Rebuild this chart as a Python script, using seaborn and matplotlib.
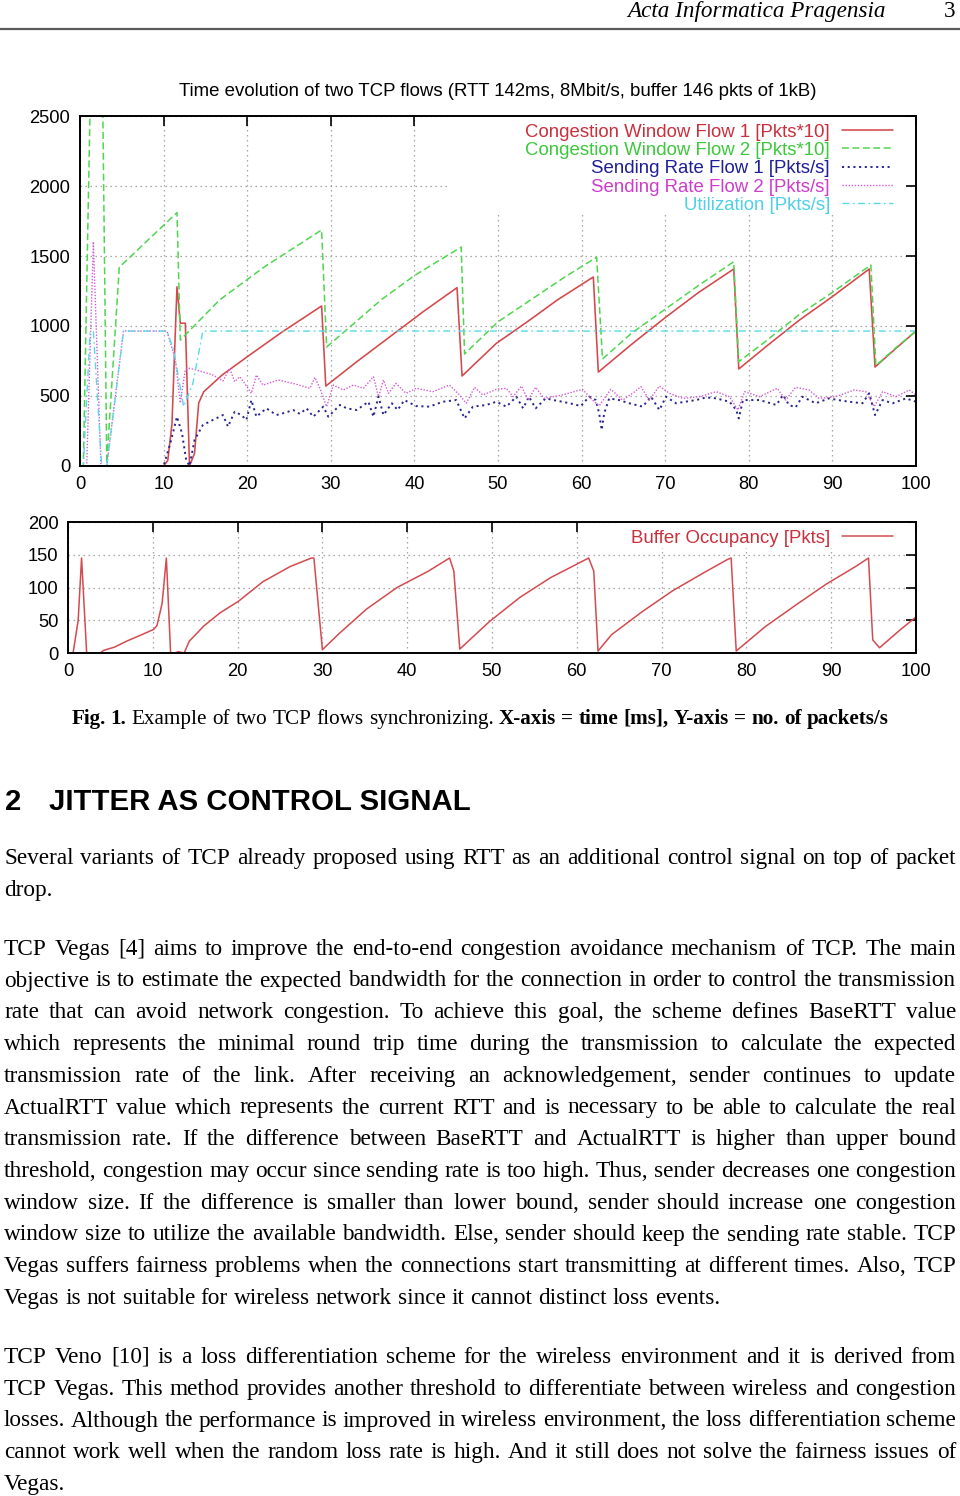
import matplotlib
matplotlib.use("Agg")
import matplotlib.pyplot as plt
import seaborn as sns
from matplotlib.transforms import IdentityTransform
from matplotlib.font_manager import FontProperties
from matplotlib.patches import Rectangle

# ------------------------------------------------------------------ data
time_ticks = list(range(0, 101, 10))
rate_ticks = [0, 500, 1000, 1500, 2000, 2500]
buffer_ticks = [0, 50, 100, 150, 200]

cwnd1_t = [0, 10.0, 10.5, 11.0, 11.6, 12.0, 12.6, 13.1, 13.7, 14.2,
           14.8, 17.0, 20.0, 24.0, 28.9, 29.4, 33.0, 37.0, 41.0, 45.1,
           45.7, 49.8, 53.5, 57.1, 61.4, 62.0, 66.0, 70.0, 74.0, 78.2,
           78.8, 82.0, 86.0, 90.0, 94.4, 95.1, 97.5, 100.0]
cwnd1_v = [0, 0, 40, 300, 1280, 1020, 1020, 0, 90, 450,
           530, 650, 780, 950, 1143, 571, 740, 920, 1100, 1274,
           643, 876, 1030, 1186, 1350, 671, 870, 1060, 1240, 1407,
           693, 850, 1040, 1210, 1407, 707, 835, 964]

cwnd2_t = [0, 0.4, 1.25, 2.7, 3.2, 4.7, 11.6, 12.0, 16.7, 22.0,
           28.9, 29.5, 33.0, 36.0, 40.0, 45.6, 46.0, 50.0, 54.0, 58.0,
           61.8, 62.5, 66.0, 70.0, 74.0, 78.2, 78.8, 82.0, 86.0, 90.0,
           94.6, 95.2, 97.5, 100.0]
cwnd2_v = [0, 0, 2700, 2700, 20, 1420, 1810, 900, 1186, 1420,
           1686, 850, 1030, 1186, 1360, 1564, 800, 1030, 1190, 1350,
           1491, 764, 950, 1120, 1290, 1459, 745, 890, 1080, 1240,
           1436, 717, 840, 964]

sr1_t = [0, 10.0, 10.8, 11.6, 12.2, 12.7, 13.1, 13.7, 14.7, 15.9,
         17.1, 17.7, 18.5, 19.3, 19.9, 20.5, 21.1, 22.3, 23.5, 24.5,
         25.5, 26.3, 27.1, 27.9, 29.1, 29.7, 31.1, 31.9, 33.1, 34.5,
         35.1, 35.7, 36.3, 37.3, 38.0, 38.8, 40.2, 41.8, 43.4, 45.0,
         46.0, 47.0, 48.6, 49.8, 51.0, 52.2, 53.0, 53.7, 54.5, 55.7,
         56.7, 57.7, 58.8, 59.9, 60.9, 61.7, 62.1, 62.4, 62.7, 63.3,
         64.5, 65.7, 67.3, 68.3, 69.3, 70.1, 71.3, 72.5, 73.7, 74.9,
         76.1, 77.7, 78.5, 78.8, 79.3, 81.3, 83.3, 84.1, 84.8, 85.6,
         86.4, 88.0, 89.6, 90.8, 92.0, 93.6, 94.4, 95.1, 96.0, 97.2,
         98.8, 100.0]
sr1_v = [0, 0, 162, 352, 233, 43, 0, 186, 293, 329,
         364, 281, 388, 364, 329, 471, 352, 412, 364, 380,
         400, 372, 412, 352, 424, 352, 436, 412, 400, 459,
         352, 495, 364, 448, 400, 471, 428, 424, 459, 471,
         340, 424, 436, 459, 424, 495, 412, 495, 412, 483,
         470, 459, 445, 428, 495, 471, 376, 257, 376, 483,
         471, 448, 424, 495, 400, 495, 448, 460, 471, 490,
         483, 459, 400, 340, 471, 471, 436, 507, 436, 419,
         495, 448, 483, 470, 459, 448, 519, 364, 471, 448,
         483, 459]

sr2_t = [0, 0.8, 1.6, 2.5, 3.2, 5.2, 10.4, 11.4, 12.0, 12.6,
         13.1, 13.9, 15.9, 17.1, 17.9, 18.5, 19.1, 19.7, 20.5, 21.1,
         21.9, 23.7, 25.5, 27.5, 28.1, 28.7, 29.5, 30.3, 31.5, 32.7,
         33.9, 35.1, 35.7, 36.3, 36.9, 37.8, 39.0, 40.2, 42.2, 44.2,
         45.4, 46.2, 47.2, 48.2, 49.8, 51.0, 51.8, 52.8, 53.6, 54.5,
         55.5, 57.7, 60.1, 61.3, 62.1, 63.5, 64.9, 66.1, 67.1, 68.1,
         69.3, 70.5, 72.1, 74.1, 76.1, 77.7, 78.7, 79.5, 81.3, 83.4,
         84.4, 85.6, 87.2, 88.4, 90.4, 92.6, 94.0, 95.0, 96.0, 97.6,
         99.2, 100.0]
sr2_v = [0, 0, 1602, 0, 0, 964, 964, 760, 450, 690,
         698, 686, 650, 607, 698, 602, 638, 590, 519, 650,
         578, 614, 590, 555, 633, 555, 424, 578, 543, 578,
         555, 638, 495, 614, 519, 590, 519, 555, 531, 578,
         507, 448, 562, 507, 548, 555, 495, 571, 471, 562,
         483, 507, 548, 471, 430, 548, 471, 519, 567, 471,
         571, 519, 483, 495, 531, 495, 400, 531, 495, 555,
         471, 562, 543, 483, 495, 543, 531, 424, 531, 495,
         543, 507]

util_t = [0, 0.4, 1.2, 1.6, 2.6, 3.2, 5.2, 10.4, 11.2, 12.4, 13.5, 14.7, 100.0]
util_v = [0, 0, 950, 960, 0, 0, 964, 964, 830, 424, 590, 964, 964]

buf_t = [0, 0.6, 1.2, 1.6, 2.2, 3.8, 4.2, 5.5, 6.9, 8.7,
         10.1, 10.5, 11.1, 11.6, 12.1, 12.6, 13.0, 13.7, 14.3, 16.0,
         17.9, 20.1, 23.0, 26.2, 28.7, 29.0, 30.0, 32.0, 35.2, 38.8,
         42.5, 45.0, 45.5, 46.2, 49.7, 53.3, 56.9, 61.4, 62.0, 62.5,
         64.1, 67.7, 71.3, 74.9, 77.8, 78.2, 78.8, 82.2, 85.8, 89.4,
         93.0, 94.4, 94.9, 95.7, 98.1, 100.0]
buf_v = [0, 0, 50, 145, 0, 0, 4, 9, 18, 28,
         36, 42, 76, 145, 0, 0, 2, 0, 18, 41,
         61, 79, 109, 132, 145, 145, 5, 30, 67, 100,
         125, 145, 125, 6, 48, 85, 115, 145, 125, 3,
         28, 63, 95, 122, 143, 145, 3, 40, 73, 105,
         133, 145, 20, 8, 35, 55]

series_labels = ["Congestion Window Flow 1 [Pkts*10]",
                 "Congestion Window Flow 2 [Pkts*10]",
                 "Sending Rate Flow 1 [Pkts/s]",
                 "Sending Rate Flow 2 [Pkts/s]",
                 "Utilization [Pkts/s]"]
buffer_label = "Buffer Occupancy [Pkts]"
chart_title = "Time evolution of two TCP flows (RTT 142ms, 8Mbit/s, buffer 146 pkts of 1kB)"

header_journal = "Acta Informatica Pragensia"
header_page = "3"
caption_parts = [("Fig. 1.", "bold"),
                 ("Example of two TCP flows synchronizing.", "normal"),
                 ("X-axis = time [ms], Y-axis = no. of packets/s", "bold")]
heading_num = "2"
heading_text = "JITTER AS CONTROL SIGNAL"
paragraphs = [
    ["Several variants of TCP already proposed using RTT as an additional control signal on top of packet",
     "drop."],
    ["TCP Vegas [4] aims to improve the end-to-end congestion avoidance mechanism of TCP. The main",
     "objective is to estimate the expected bandwidth for the connection in order to control the transmission",
     "rate that can avoid network congestion. To achieve this goal, the scheme defines BaseRTT value",
     "which represents the minimal round trip time during the transmission to calculate the expected",
     "transmission rate of the link. After receiving an acknowledgement, sender continues to update",
     "ActualRTT value which represents the current RTT and is necessary to be able to calculate the real",
     "transmission rate. If the difference between BaseRTT and ActualRTT is higher than upper bound",
     "threshold, congestion may occur since sending rate is too high. Thus, sender decreases one congestion",
     "window size. If the difference is smaller than lower bound, sender should increase one congestion",
     "window size to utilize the available bandwidth. Else, sender should keep the sending rate stable. TCP",
     "Vegas suffers fairness problems when the connections start transmitting at different times. Also, TCP",
     "Vegas is not suitable for wireless network since it cannot distinct loss events."],
    ["TCP Veno [10] is a loss differentiation scheme for the wireless environment and it is derived from",
     "TCP Vegas. This method provides another threshold to differentiate between wireless and congestion",
     "losses. Although the performance is improved in wireless environment, the loss differentiation scheme",
     "cannot work well when the random loss rate is high. And it still does not solve the fairness issues of",
     "Vegas."],
]

# ------------------------------------------------------------------ style
sns.set_theme(style="white")
plt.rcParams["font.family"] = ["Liberation Sans", "DejaVu Sans"]
plt.rcParams["lines.scale_dashes"] = False

W, H = 960, 1496
fig = plt.figure(figsize=(W / 100, H / 100), dpi=100)
fig.patch.set_facecolor("white")
renderer = fig.canvas.get_renderer()
ID = IdentityTransform()


def box(l, t, r, b):
    return [l / W, 1 - b / H, (r - l) / W, (b - t) / H]


line_colors = ["#d4474c", "#4fd64f", "#262690", "#d65ad6", "#58d8e8"]
text_colors = ["#c8303c", "#3cc83c", "#1e1e96", "#cd3ccd", "#4fd0e6"]
styles = [None, (5, 2.5), (1.5, 2.6), (1.0, 1.2), (5, 2.5, 1.2, 2.5)]
widths = [1.15, 1.1, 1.4, 1.0, 1.0]
TICK_FS = 13.2
LEG_FS = 13.4

ax1 = fig.add_axes(box(80, 116, 916, 466))
ax2 = fig.add_axes(box(68, 522, 916, 653))

top_series = [(cwnd1_t, cwnd1_v), (cwnd2_t, cwnd2_v), (sr1_t, sr1_v),
              (sr2_t, sr2_v), (util_t, util_v)]
for (tx, vy), col, ds, lw, lab in zip(top_series, line_colors, styles, widths, series_labels):
    sns.lineplot(x=tx, y=vy, ax=ax1, color=col, linewidth=lw, label=lab,
                 estimator=None, sort=False, legend=False, zorder=2)
    ln = ax1.lines[-1]
    if ds is not None:
        ln.set_dashes(ds)

sns.lineplot(x=buf_t, y=buf_v, ax=ax2, color="#d24b50", linewidth=1.1,
             label=buffer_label, estimator=None, sort=False, legend=False, zorder=2)

for ax, yt in ((ax1, rate_ticks), (ax2, buffer_ticks)):
    ax.set_xlim(0, 100)
    ax.set_ylim(yt[0], yt[-1])
    ax.set_xticks(time_ticks)
    ax.set_yticks(yt)
    ax.set_xlabel("")
    ax.set_ylabel("")
    ax.tick_params(direction="in", length=7, width=1.2, top=True, right=True,
                   labelsize=TICK_FS, pad=7, colors="black")
    for sp in ax.spines.values():
        sp.set_visible(True)
        sp.set_color("black")
        sp.set_linewidth(1.4)
    ax.grid(True, color="#9c9c9c", linestyle=(0, (1, 2.6)), linewidth=0.9)
    ax.set_axisbelow(True)
    ax.set_facecolor("white")

# white areas behind the keys (as in gnuplot)
ax1.add_patch(Rectangle((0.443, 0.726), 0.545, 0.274, transform=ax1.transAxes,
                        facecolor="white", edgecolor="none", zorder=1))
ax2.add_patch(Rectangle((0.645, 0.80), 0.345, 0.20, transform=ax2.transAxes,
                        facecolor="white", edgecolor="none", zorder=1))

fs_px = LEG_FS * 100 / 72
h1, l1 = ax1.get_legend_handles_labels()
ax1.legend(h1, l1, loc="upper right", bbox_to_anchor=((893 - 80) / 836, (466 - 123.5) / 350),
           markerfirst=False, frameon=False, labelcolor=text_colors, fontsize=LEG_FS,
           handlelength=51 / fs_px, handletextpad=12 / fs_px, labelspacing=0.07,
           borderpad=0, borderaxespad=0)
h2, l2 = ax2.get_legend_handles_labels()
ax2.legend(h2, l2, loc="upper right", bbox_to_anchor=((893 - 68) / 848, (653 - 529.5) / 131),
           markerfirst=False, frameon=False, labelcolor=[text_colors[0]], fontsize=LEG_FS,
           handlelength=51 / fs_px, handletextpad=12 / fs_px, borderpad=0, borderaxespad=0)


# ------------------------------------------------------------------ page text
def text_w(s, fp):
    t = fig.text(0, 0, s, fontproperties=fp, transform=ID)
    w = t.get_window_extent(renderer=renderer).width
    t.remove()
    return w


def put(s, x, yb, fp, color="black", ha="left"):
    return fig.text(x, H - yb, s, fontproperties=fp, transform=ID, ha=ha,
                    va="baseline", color=color)


def set_line(tokens, yb, x0, x1, mode):
    ws = [text_w(w, fp) for w, fp in tokens]
    n = len(tokens)
    if mode == "justify" and n > 1:
        gaps = [(x1 - x0 - sum(ws)) / (n - 1)] * (n - 1)
    else:
        gaps = [text_w("n n", fp) - text_w("nn", fp) for _, fp in tokens[:-1]]
    total = sum(ws) + sum(gaps)
    x = x0 if mode != "center" else (x0 + x1) / 2 - total / 2
    for i, ((w, fp), wd) in enumerate(zip(tokens, ws)):
        put(w, x, yb, fp)
        if i < n - 1:
            x += wd + gaps[i]


def fit(s, target, **kw):
    fp = FontProperties(size=20, **kw)
    return 20 * target / text_w(s, fp)


# chart title
title_fs = fit(chart_title, 640, family="Liberation Sans")
put(chart_title, 498, 95.5, FontProperties(family="Liberation Sans", size=title_fs), ha="center")

# running header
hdr_fs = fit(header_journal, 258, family="Liberation Serif", style="italic")
put(header_journal, 886, 17, FontProperties(family="Liberation Serif", style="italic", size=hdr_fs), ha="right")
put(header_page, 955, 17, FontProperties(family="Liberation Serif", size=hdr_fs), ha="right")
fig.add_artist(plt.Line2D([0, 1], [1 - 29 / H, 1 - 29 / H], color="#5a5a5a", linewidth=1.6,
                          transform=fig.transFigure))

# caption
cap_text = " ".join(p for p, _ in caption_parts)
cap_fs = fit(cap_text, 806, family="Liberation Serif")
cap_tokens = []
for part, wt in caption_parts:
    fp = FontProperties(family="Liberation Serif", weight=wt, size=cap_fs)
    cap_tokens += [(w, fp) for w in part.split()]
set_line(cap_tokens, 724, 0, W, "center")

# section heading
head_fs = fit(heading_text, 421, family="Liberation Sans", weight="bold")
hfp = FontProperties(family="Liberation Sans", weight="bold", size=head_fs)
put(heading_num, 5, 810, hfp)
put(heading_text, 49, 810, hfp)

# body text (justified)
x_left, x_right = 4, 956
just_lines = [ln for par in paragraphs for ln in par[:-1]]
widest = max(text_w(ln, FontProperties(family="Liberation Serif", size=20)) for ln in just_lines)
body_fs = 20 * 951 / widest
bfp = FontProperties(family="Liberation Serif", size=body_fs)
yb = 864.0
step, par_step = 31.75, 59.0
for pi, par in enumerate(paragraphs):
    for li, ln in enumerate(par):
        mode = "left" if li == len(par) - 1 else "justify"
        set_line([(w, bfp) for w in ln.split()], yb, x_left, x_right, mode)
        if li < len(par) - 1:
            yb += step
    yb += par_step

fig.savefig("out.png", dpi=100, facecolor="white")
